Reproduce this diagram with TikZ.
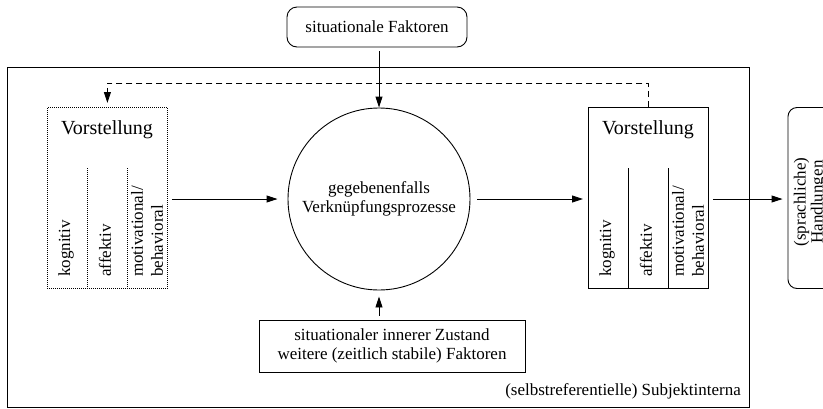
\documentclass[tikz,border=0pt]{standalone}
\usepackage{fontspec}
\setmainfont{Liberation Serif}
\usetikzlibrary{arrows.meta,calc}
\tikzset{
  lw/.style={line width=0.9pt},
  arr/.style={-{Triangle[length=11pt,width=7pt]}, line width=0.9pt},
  txt/.style={font=\fontsize{17}{19}\selectfont, inner sep=0pt, align=center},
  big/.style={font=\fontsize{20}{24}\selectfont, inner sep=0pt},
  coltxt/.style={font=\fontsize{17}{20}\selectfont, inner sep=0pt, rotate=90, anchor=west, align=left},
  dotbox/.style={draw, line width=0.8pt, dash pattern=on 0.8pt off 1.2pt, inner sep=0pt, anchor=north west, minimum width=120pt, minimum height=181pt},
  solbox/.style={draw, lw, inner sep=0pt, anchor=north west, minimum width=120pt, minimum height=181pt},
  dotline/.style={line width=0.8pt, dash pattern=on 0.8pt off 1.2pt},
  dashline/.style={line width=0.9pt, dash pattern=on 6pt off 4pt},
}
\begin{document}
\begin{tikzpicture}[x=1pt,y=-1pt]
\useasboundingbox (0,0) rectangle (823,408);
\clip (0,0) rectangle (823,408);

% outer frame
\node[draw, lw, anchor=north west, minimum width=742pt, minimum height=340pt, inner sep=0pt] (outer) at (7,67) {};
\node[txt, anchor=east] (subj) at (741,391) {(selbstreferentielle) Subjektinterna};

% top box
\node[draw, lw, rounded corners=10pt, minimum width=180pt, minimum height=40pt, txt] (top) at (377,27) {situationale Faktoren};

% circle
\node[circle, draw, lw, minimum size=182pt, txt] (circ) at (379,199) {gegebenenfalls\\Verknüpfungsprozesse};

% bottom box
\node[draw, lw, minimum width=266pt, minimum height=52pt, txt] (bot) at (392,346) {situationaler innerer Zustand\\weitere (zeitlich stabile) Faktoren};

% left Vorstellung (dotted)
\node[dotbox] (lv) at (47,107) {};
\node[big] (lvt) at (107,130) {Vorstellung};
\draw[dotline] (87,168) -- (87,288);
\draw[dotline] (127,168) -- (127,288);
\node[coltxt] (lk) at (66,277) {kognitiv};
\node[coltxt] (la) at (105,277) {affektiv};
\node[coltxt] (lm) at (147,277) {motivational/\\behavioral};

% right Vorstellung (solid)
\node[solbox] (rv) at (588,107) {};
\node[big] (rvt) at (648,130) {Vorstellung};
\draw[lw] (628,168) -- (628,288);
\draw[lw] (668,168) -- (668,288);
\node[coltxt] (rk) at (607,277) {kognitiv};
\node[coltxt] (ra) at (646,277) {affektiv};
\node[coltxt] (rm) at (688,277) {motivational/\\behavioral};

% right rounded box
\node[draw, lw, rounded corners=9pt, minimum width=44pt, minimum height=181pt, inner sep=0pt] (hb) at (810,198) {};
\node[font=\fontsize{17}{17}\selectfont, inner sep=0pt, rotate=90, align=center] (hbt) at (810,202) {(sprachliche)\\Handlungen};

% connectors
\draw[arr, shorten <=4pt] (circ.north |- top.south) -- (circ.north);
\draw[arr, shorten <=4pt, shorten >=6pt] (circ.south |- bot.north) -- (circ.south);
\draw[arr, shorten <=4pt, shorten >=10pt] (lv.east |- circ.west) -- (circ.west);
\draw[arr, shorten <=7pt, shorten >=5pt] (circ.east) -- (rv.west |- circ.east);
\draw[arr, shorten <=4pt, shorten >=5pt] (rv.east |- circ.east) -- (hb.west |- circ.east);
\coordinate (dashy) at (0,83);
\draw[dashline] (rv.north) -- (rv.north |- dashy) -| (lv.north) [arr, shorten >=4pt];
\end{tikzpicture}
\end{document}
